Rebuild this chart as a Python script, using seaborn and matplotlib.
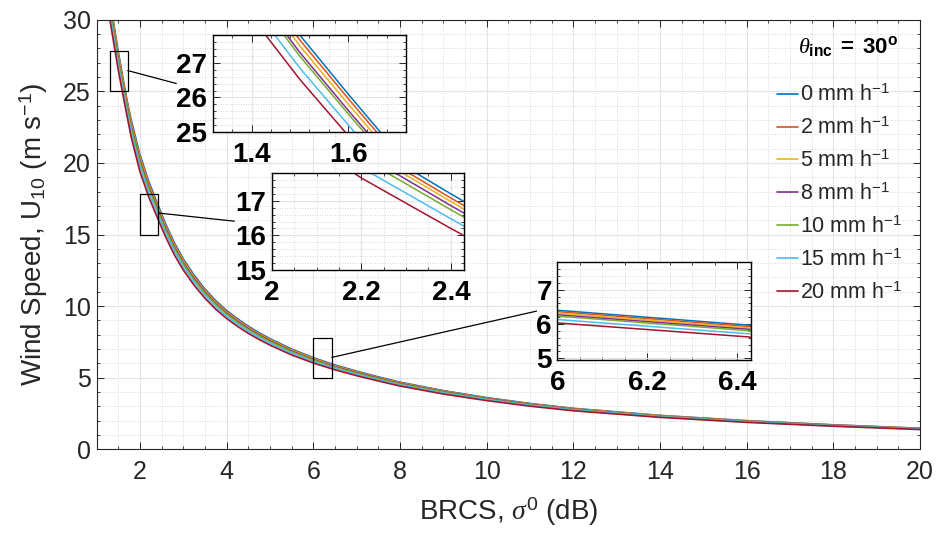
import numpy as np
import pandas as pd
import matplotlib
matplotlib.use('Agg')
import matplotlib.pyplot as plt
from matplotlib.ticker import MultipleLocator
from matplotlib.patches import Rectangle
import seaborn as sns

# BRCS (dB) sample points and wind speed U10 (m/s), one list per rain rate
sigma = [1.25, 1.3, 1.4, 1.5, 1.6, 1.7, 1.8, 2.0, 2.2, 2.4, 2.6, 2.8, 3.0, 3.25, 3.5, 3.75, 4.0,
         4.25, 4.5, 4.75, 5.0, 5.5, 6.0, 6.5, 7.0, 7.5, 8.0, 9.0, 10, 11, 12, 14, 16, 18, 20]
u_0mm = [32.60, 31.60, 29.70, 27.80, 26.10, 24.45, 23.00, 20.60, 18.75, 17.20, 15.70, 14.40, 13.30, 12.17, 11.20, 10.38, 9.70,
         9.12, 8.60, 8.14, 7.73, 7.00, 6.40, 5.89, 5.46, 5.06, 4.69, 4.10, 3.61, 3.20, 2.86, 2.37, 2.00, 1.71, 1.47]
u_2mm = [32.44, 31.44, 29.55, 27.66, 25.97, 24.33, 22.86, 20.46, 18.62, 17.08, 15.59, 14.30, 13.21, 12.08, 11.12, 10.31, 9.63,
         9.06, 8.54, 8.08, 7.68, 6.95, 6.36, 5.85, 5.42, 5.02, 4.66, 4.07, 3.58, 3.18, 2.84, 2.35, 1.99, 1.70, 1.46]
u_5mm = [32.24, 31.25, 29.37, 27.49, 25.81, 24.18, 22.72, 20.33, 18.51, 16.98, 15.50, 14.21, 13.13, 12.01, 11.05, 10.25, 9.57,
         9.00, 8.49, 8.03, 7.63, 6.91, 6.32, 5.81, 5.39, 4.99, 4.63, 4.05, 3.56, 3.16, 2.82, 2.34, 1.97, 1.69, 1.45]
u_8mm = [32.01, 31.03, 29.17, 27.30, 25.63, 24.01, 22.56, 20.19, 18.38, 16.86, 15.39, 14.11, 13.03, 11.93, 10.98, 10.17, 9.51,
         8.94, 8.43, 7.98, 7.58, 6.86, 6.27, 5.77, 5.35, 4.96, 4.60, 4.02, 3.54, 3.14, 2.80, 2.32, 1.96, 1.68, 1.44]
u_10mm = [31.88, 30.90, 29.05, 27.19, 25.53, 23.91, 22.45, 20.04, 18.24, 16.74, 15.28, 14.01, 12.94, 11.84, 10.90, 10.10, 9.44,
          8.87, 8.37, 7.92, 7.52, 6.81, 6.23, 5.73, 5.31, 4.92, 4.56, 3.99, 3.51, 3.11, 2.78, 2.31, 1.95, 1.66, 1.43]
u_15mm = [31.49, 30.53, 28.69, 26.85, 25.21, 23.62, 22.13, 19.73, 17.96, 16.48, 15.04, 13.80, 12.74, 11.66, 10.73, 9.94, 9.29,
          8.74, 8.24, 7.80, 7.41, 6.71, 6.13, 5.64, 5.23, 4.85, 4.49, 3.93, 3.46, 3.07, 2.74, 2.27, 1.92, 1.64, 1.41]
u_20mm = [31.10, 30.15, 28.33, 26.52, 24.90, 23.33, 21.80, 19.41, 17.66, 16.20, 14.79, 13.56, 12.53, 11.46, 10.55, 9.78, 9.14,
          8.59, 8.10, 7.67, 7.28, 6.59, 6.03, 5.55, 5.14, 4.77, 4.42, 3.86, 3.40, 3.01, 2.69, 2.23, 1.88, 1.61, 1.38]

rain_rates = [0, 2, 5, 8, 10, 15, 20]
series = [u_0mm, u_2mm, u_5mm, u_8mm, u_10mm, u_15mm, u_20mm]
labels = ['%d mm h$^{-1}$' % r for r in rain_rates]
colors = ['#0072BD', '#D95319', '#EDB120', '#7E2F8E', '#77AC30', '#4DBEEE', '#A2142F']
legend_title = r'$\theta_{\mathbf{inc}}\ \mathbf{=\ 30^o}$'

# zoom windows: (xmin, xmax, ymin, ymax), x major and minor tick steps
zoom_windows = [(1.32, 1.72, 25, 27.8), (2.0, 2.43, 15, 17.8), (6.0, 6.43, 4.95, 7.8)]
zoom_xmajor = [0.2, 0.2, 0.2]
zoom_xminor = [0.04, 0.05, 0.05]
# inset positions in figure fractions
inset_pos = [[0.2273, 0.756, 0.206, 0.179],
             [0.2900, 0.501, 0.2055, 0.179],
             [0.5948, 0.3346, 0.2067, 0.1806]]
# leader lines (main axes data coords)
leaders = [((1.72, 2.84), (26.45, 25.55)),
           ((2.43, 4.18), (16.5, 15.93)),
           ((6.43, 11.15), (6.42, 9.65))]

df = pd.concat([pd.DataFrame({'sigma': sigma, 'U': u, 'rain': lab})
                for u, lab in zip(series, labels)], ignore_index=True)

sns.set_theme(style='ticks')
plt.rcParams['font.family'] = ['Liberation Sans', 'DejaVu Sans']
plt.rcParams['mathtext.fontset'] = 'custom'
plt.rcParams['mathtext.rm'] = 'Liberation Sans'
plt.rcParams['mathtext.it'] = 'Liberation Serif:italic'
plt.rcParams['mathtext.bf'] = 'Liberation Sans:bold'

grid_major = dict(color='#e3e3e3', lw=0.8, ls='-')
grid_minor = dict(color='#cccccc', lw=0.6, ls=(0, (1, 2)))
edge = '#262626'


def style_axes(a, size, pad=4):
    a.set_axisbelow(True)
    a.grid(which='major', **grid_major)
    a.grid(which='minor', **grid_minor)
    a.tick_params(which='both', direction='in', top=True, right=True, color=edge,
                  labelsize=size, labelcolor='#262626', pad=pad)
    a.tick_params(which='major', length=5, width=0.7)
    a.tick_params(which='minor', length=2.5, width=0.6)
    for s in a.spines.values():
        s.set_color(edge)
        s.set_linewidth(0.8)


fig = plt.figure(figsize=(9.37, 5.41), dpi=100)
ax = fig.add_axes([0.103, 0.1695, 0.879, 0.794])
sns.lineplot(data=df, x='sigma', y='U', hue='rain', hue_order=labels, palette=colors,
             linewidth=1.2, ax=ax, legend=False)
ax.set_xlim(1, 20)
ax.set_ylim(0, 30)
ax.xaxis.set_major_locator(MultipleLocator(2))
ax.xaxis.set_minor_locator(MultipleLocator(0.5))
ax.yaxis.set_major_locator(MultipleLocator(5))
ax.yaxis.set_minor_locator(MultipleLocator(1))
style_axes(ax, 18)
ax.tick_params(axis='x', pad=8)
ax.set_xlabel(r'BRCS, $\sigma^0$ (dB)', fontsize=20, color='#262626', labelpad=8)
ax.set_ylabel(r'Wind Speed, U$_{10}$ (m s$^{-1}$)', fontsize=20, color='#262626', labelpad=9)

handles = ax.get_lines()[:7]
leg = ax.legend(handles, labels, loc='upper right', bbox_to_anchor=(0.989, 0.869),
                frameon=False, fontsize=15.5, handlelength=1.0, handletextpad=0.1,
                labelspacing=0.53, borderaxespad=0)
fig.text(848 / 937, 1 - 47 / 541, legend_title, fontsize=16, ha='center', va='center',
         color='black')

for (x0, x1, y0, y1) in zoom_windows:
    ax.add_patch(Rectangle((x0, y0), x1 - x0, y1 - y0, fill=False, ec='black', lw=0.9, zorder=5))
for xs, ys in leaders:
    ax.plot(xs, ys, color='black', lw=0.9, zorder=5)

for pos, (x0, x1, y0, y1), xmaj, xmin in zip(inset_pos, zoom_windows, zoom_xmajor, zoom_xminor):
    ins = fig.add_axes(pos)
    ins.set_facecolor('white')
    sns.lineplot(data=df, x='sigma', y='U', hue='rain', hue_order=labels, palette=colors,
                 linewidth=1.1, ax=ins, legend=False)
    ins.set_xlim(x0, x1)
    ins.set_ylim(y0, y1)
    ins.xaxis.set_major_locator(MultipleLocator(xmaj))
    ins.xaxis.set_minor_locator(MultipleLocator(xmin))
    ins.yaxis.set_major_locator(MultipleLocator(1))
    ins.yaxis.set_minor_locator(MultipleLocator(0.2))
    ins.set_xlabel('')
    ins.set_ylabel('')
    style_axes(ins, 20)
    ins.tick_params(axis='x', pad=7)
    ins.tick_params(which='major', labelcolor='black')
    ins.set_xticks(ins.get_xticks())
    ins.set_xticklabels([('%g' % v) for v in ins.get_xticks()])
    ins.set_xlim(x0, x1)
    for t in ins.get_xticklabels() + ins.get_yticklabels():
        t.set_fontweight('bold')
    for s in ins.spines.values():
        s.set_color('black')
        s.set_linewidth(1.0)

fig.savefig('out.png', dpi=100)
